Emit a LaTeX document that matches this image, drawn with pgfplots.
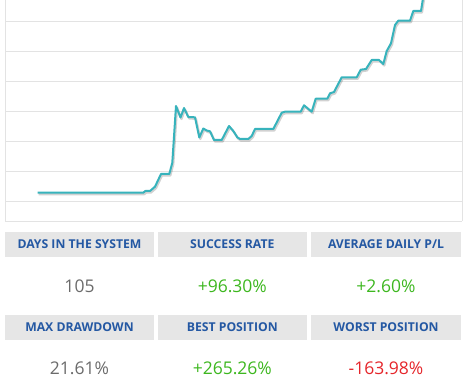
\documentclass[border=0pt]{standalone}
\usepackage{pgfplots}
\pgfplotsset{compat=1.18}
\usepackage{pgfplotstable}
\usepackage{fontspec}
\setmainfont{Open Sans}
\definecolor{linecol}{HTML}{37B3BC}
\definecolor{gridcol}{HTML}{E3E3E3}
\definecolor{boxcol}{HTML}{E6E6E6}
\definecolor{headcol}{HTML}{2458A3}
\definecolor{valgray}{HTML}{6B6B6B}
\definecolor{valgreen}{HTML}{3DB71F}
\definecolor{valred}{HTML}{E5262B}
\pgfplotstableread{
x y
37.7 28.3
143.3 28.3
145.3 30
150 30
155 34.3
161 47
169.3 47
172.3 58.3
176 115
180.5 103.5
184 113
188.3 104
195 103.7
199.3 83.5
203.3 92.5
206.7 90.5
210 89.7
214 81
221.7 81
229 95
233.3 90
237.3 83.7
240 82
248.3 82
251.7 85
255 92
273.3 92
281.7 108.3
285 109.3
300.7 109.3
304 115.7
311.7 109.3
315.7 122.3
327.3 122.3
330 127.7
334 129
341.7 143.7
356.7 143.7
360.7 151.3
366 152
371.7 161
379 161
383.3 157
386.7 170
391 177.7
395 196
398.3 200.3
410 200.3
413.3 210
421 210
424 229
}\equity
\begin{document}
\begin{tikzpicture}[x=1pt,y=1pt]
\useasboundingbox (0,0) rectangle (471,375);
\begin{axis}[
  at={(5.5,154)}, anchor=south west,
  scale only axis, width=456.8pt, height=221pt,
  xmin=5.5, xmax=462.3, ymin=0, ymax=221,
  axis line style={draw=gridcol, line width=0.8pt},
  separate axis lines,
  axis x line*=bottom,
  every outer y axis line/.style={draw=none},
  ytick={20,50,80,110,140,170,200},
  yticklabels={}, xticklabels={},
  xtick=\empty,
  major tick length=0pt,
  ymajorgrids, grid style={draw=gridcol, line width=0.8pt},
  clip=true,
]
\addplot[draw=black, opacity=0.18, line width=2.2pt, shift={(1pt,-1.5pt)}, line join=round] table[x=x,y=y] {\equity};
\addplot[draw=linecol, line width=2pt, line join=round] table[x=x,y=y] {\equity};
\end{axis}
% vertical borders
\draw[gridcol, line width=0.8pt] (5.5,154) -- (5.5,375);
\draw[gridcol, line width=0.8pt] (462.3,154) -- (462.3,375);
% header boxes
\fill[boxcol] (5,375-257) rectangle (154,375-231.7);
\fill[boxcol] (158,375-257) rectangle (306.7,375-231.7);
\fill[boxcol] (311,375-257) rectangle (461,375-231.7);
\fill[boxcol] (5,375-340) rectangle (154,375-315);
\fill[boxcol] (158,375-340) rectangle (306.7,375-315);
\fill[boxcol] (311,375-340) rectangle (461,375-315);
\begin{scope}[every node/.style={inner sep=0pt, anchor=center}]
\node[font=\fontsize{12.2}{13}\selectfont\bfseries, text=headcol] at (79.5,375-244.3) {DAYS IN THE SYSTEM};
\node[font=\fontsize{12.2}{13}\selectfont\bfseries, text=headcol] at (232.3,375-244.3) {SUCCESS RATE};
\node[font=\fontsize{12.2}{13}\selectfont\bfseries, text=headcol] at (386,375-244.3) {AVERAGE DAILY P/L};
\node[font=\fontsize{12.2}{13}\selectfont\bfseries, text=headcol] at (79.5,375-327.5) {MAX DRAWDOWN};
\node[font=\fontsize{12.2}{13}\selectfont\bfseries, text=headcol] at (232.3,375-327.5) {BEST POSITION};
\node[font=\fontsize{12.2}{13}\selectfont\bfseries, text=headcol] at (386,375-327.5) {WORST POSITION};
\node[font=\fontsize{17.5}{18}\selectfont, text=valgray] at (79.5,375-286) {105};
\node[font=\fontsize{17.5}{18}\selectfont, text=valgreen] at (232.3,375-286) {+96.30\%};
\node[font=\fontsize{17.5}{18}\selectfont, text=valgreen] at (386,375-286) {+2.60\%};
\node[font=\fontsize{17.5}{18}\selectfont, text=valgray] at (79.5,375-368.5) {21.61\%};
\node[font=\fontsize{17.5}{18}\selectfont, text=valgreen] at (232.3,375-368.5) {+265.26\%};
\node[font=\fontsize{17.5}{18}\selectfont, text=valred] at (386,375-368.5) {-163.98\%};
\end{scope}
\end{tikzpicture}
\end{document}
